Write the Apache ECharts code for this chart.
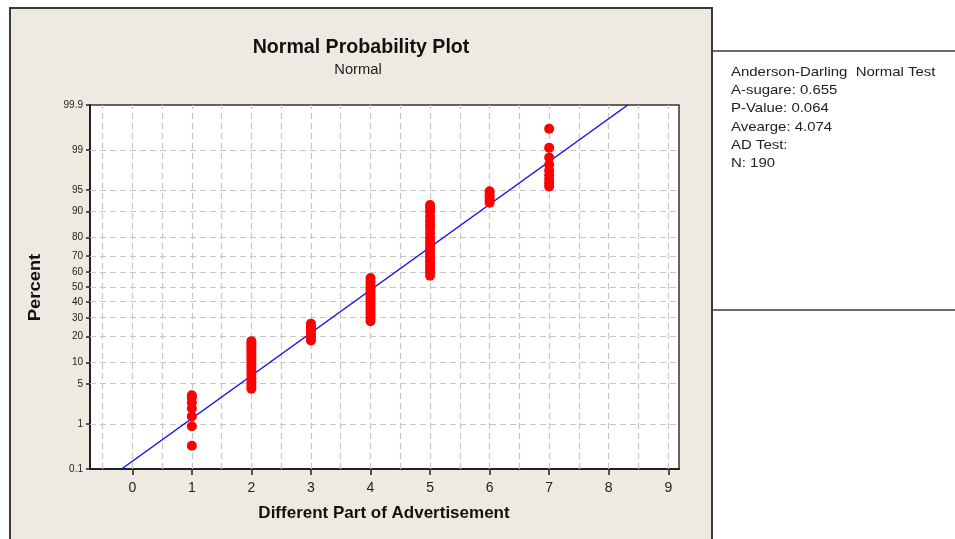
<!DOCTYPE html>
<html><head><meta charset="utf-8">
<script src="https://cdn.jsdelivr.net/npm/echarts@6/dist/echarts.min.js"></script>
<style>html,body{margin:0;padding:0;background:#fff}#c{width:955px;height:539px}</style>
</head><body><div id="c"></div>
<script>
// ---- data (percent values) ----
const categories = [1, 2, 3, 4, 5, 6, 7];
const pctCol1 = [0.35, 0.9, 1.4, 1.95, 2.5, 3.0, 3.3];
const pctCol2 = [4.2, 4.7, 5.3, 6.0, 6.8, 7.6, 8.5, 9.5, 10.5, 11.5, 12.5, 13.5, 14.6, 15.7, 16.8, 17.9];
const pctCol3 = [18.2, 19.5, 21.0, 22.5, 24.0, 25.4, 26.7];
const pctCol4 = [28, 30, 32, 34, 36, 38, 40, 42, 44, 46, 48, 50, 52, 54, 56];
const pctCol5 = [57.6, 60, 62, 64, 66, 68, 70, 72, 74, 76, 78, 80, 82, 84, 85.5, 87, 88.5, 90, 91, 91.8];
const pctCol6 = [92.4, 93.0, 93.6, 94.2, 94.8];
const pctCol7 = [95.6, 96.1, 96.6, 97.1, 97.6, 98.1, 98.6, 99.1, 99.64];
const columns = [pctCol1, pctCol2, pctCol3, pctCol4, pctCol5, pctCol6, pctCol7];

const fitLineX = [-0.18, 8.32];
const fitLinePct = [0.1, 99.9];

const yTickValues = [0.1, 1, 5, 10, 20, 30, 40, 50, 60, 70, 80, 90, 95, 99, 99.9];
const yTickLabels = ['0.1', '1', '5', '10', '20', '30', '40', '50', '60', '70', '80', '90', '95', '99', '99.9'];
const xTickValues = [0, 1, 2, 3, 4, 5, 6, 7, 8, 9];
const xGridValues = [-0.5, 0, 0.5, 1, 1.5, 2, 2.5, 3, 3.5, 4, 4.5, 5, 5.5, 6, 6.5, 7, 7.5, 8, 8.5, 9];

const chartTitle = 'Normal Probability Plot';
const chartSubtitle = 'Normal';
const xName = 'Different Part of Advertisement';
const yName = 'Percent';
const statsLines = ['Anderson-Darling  Normal Test', 'A-sugare: 0.655', 'P-Value: 0.064', 'Avearge: 4.074', 'AD Test:', 'N: 190'];

// ---- normal probability scale (inverse normal CDF) ----
function probit(p) {
  const a = [-3.969683028665376e+01, 2.209460984245205e+02, -2.759285104469687e+02, 1.383577518672690e+02, -3.066479806614716e+01, 2.506628277459239e+00];
  const b = [-5.447609879822406e+01, 1.615858368580409e+02, -1.556989798598866e+02, 6.680131188771972e+01, -1.328068155288572e+01];
  const c = [-7.784894002430293e-03, -3.223964580411365e-01, -2.400758277161838e+00, -2.549732539343734e+00, 4.374664141464968e+00, 2.938163982698783e+00];
  const d = [7.784695709041462e-03, 3.224671290700398e-01, 2.445134137142996e+00, 3.754408661907416e+00];
  const plow = 0.02425, phigh = 1 - plow;
  let q, r;
  if (p < plow) {
    q = Math.sqrt(-2 * Math.log(p));
    return (((((c[0]*q+c[1])*q+c[2])*q+c[3])*q+c[4])*q+c[5]) / ((((d[0]*q+d[1])*q+d[2])*q+d[3])*q+1);
  } else if (p <= phigh) {
    q = p - 0.5; r = q * q;
    return (((((a[0]*r+a[1])*r+a[2])*r+a[3])*r+a[4])*r+a[5])*q / (((((b[0]*r+b[1])*r+b[2])*r+b[3])*r+b[4])*r+1);
  } else {
    q = Math.sqrt(-2 * Math.log(1 - p));
    return -(((((c[0]*q+c[1])*q+c[2])*q+c[3])*q+c[4])*q+c[5]) / ((((d[0]*q+d[1])*q+d[2])*q+d[3])*q+1);
  }
}
const zOf = pct => probit(pct / 100);
const zTicks = yTickValues.map(zOf);

const scatterData = [];
categories.forEach((cat, i) => columns[i].forEach(p => scatterData.push([cat, zOf(p)])));
const lineData = fitLineX.map((x, i) => [x, zOf(fitLinePct[i])]);

const gridMarks = zTicks.slice(1, -1).map(z => ({ yAxis: z }))
  .concat(xGridValues.map(x => ({ xAxis: x })));

const chart = echarts.init(document.getElementById('c'), null, { renderer: 'canvas' });
chart.setOption({
  animation: false,
  backgroundColor: '#ffffff',
  grid: { left: 90, top: 105, width: 589, height: 364, show: true, backgroundColor: '#ffffff', borderColor: '#333', borderWidth: 1.5 },
  xAxis: {
    type: 'value', min: -0.71, max: 9.18,
    axisLine: { show: true, onZero: false, lineStyle: { color: '#222', width: 2 } },
    axisTick: { show: true, customValues: xTickValues, length: 6, lineStyle: { color: '#222', width: 1.5 } },
    axisLabel: { customValues: xTickValues, color: '#222', fontSize: 14, fontFamily: 'Liberation Sans', margin: 12 },
    splitLine: { show: false }
  },
  yAxis: {
    type: 'value', min: zTicks[0], max: zTicks[zTicks.length - 1],
    axisLine: { show: true, onZero: false, lineStyle: { color: '#222', width: 2 } },
    axisTick: { show: true, customValues: zTicks, length: 4, lineStyle: { color: '#222', width: 1.5 } },
    axisLabel: {
      customValues: zTicks, color: '#222', fontSize: 10, fontFamily: 'Liberation Sans', margin: 7,
      formatter: v => { const i = zTicks.findIndex(z => Math.abs(z - v) < 1e-6); return i >= 0 ? yTickLabels[i] : ''; }
    },
    splitLine: { show: false }
  },
  series: [
    {
      type: 'line', data: [], z: 1, silent: true,
      markLine: {
        z: 1, silent: true, symbol: ['none', 'none'], label: { show: false }, animation: false,
        lineStyle: { type: [6, 4], color: '#C6C6C6', width: 1.2 },
        emphasis: { disabled: true },
        data: gridMarks
      }
    },
    { type: 'line', data: lineData, z: 3, symbol: 'none', lineStyle: { color: '#1010F0', width: 1.5 }, silent: true },
    { type: 'scatter', data: scatterData, z: 6, symbolSize: 10, itemStyle: { color: '#FF0000', opacity: 1, borderWidth: 0 }, silent: true }
  ],
  graphic: [
    { type: 'rect', z: -10, shape: { x: 10, y: 8, width: 702, height: 545 }, style: { fill: '#EEEAE1', stroke: '#3a3a3a', lineWidth: 2 } },
    { type: 'line', z: -5, shape: { x1: 712, y1: 51, x2: 955, y2: 51 }, style: { stroke: '#3a3a3a', lineWidth: 1.5 } },
    { type: 'line', z: -5, shape: { x1: 712, y1: 310, x2: 955, y2: 310 }, style: { stroke: '#3a3a3a', lineWidth: 1.5 } },
    { type: 'text', x: 361, y: 47, scaleX: 0.98, style: { text: chartTitle, font: 'bold 20px "Liberation Sans"', fill: '#111', align: 'center', verticalAlign: 'middle' } },
    { type: 'text', x: 358, y: 70, scaleX: 1.05, style: { text: chartSubtitle, font: '14px "Liberation Sans"', fill: '#222', align: 'center', verticalAlign: 'middle' } },
    { type: 'text', x: 35.5, y: 287.5, rotation: Math.PI / 2, scaleX: 1.15, style: { text: yName, font: 'bold 16px "Liberation Sans"', fill: '#111', align: 'center', verticalAlign: 'middle' } },
    { type: 'text', x: 384, y: 513, style: { text: xName, font: 'bold 17px "Liberation Sans"', fill: '#111', align: 'center', verticalAlign: 'middle' } },
    { type: 'text', x: 731, y: 63, scaleX: 1.15, style: { text: statsLines.join('\n'), font: '13px "Liberation Sans"', lineHeight: 18.3, fill: '#222', align: 'left', verticalAlign: 'top' } }
  ]
});
</script>
</body></html>
